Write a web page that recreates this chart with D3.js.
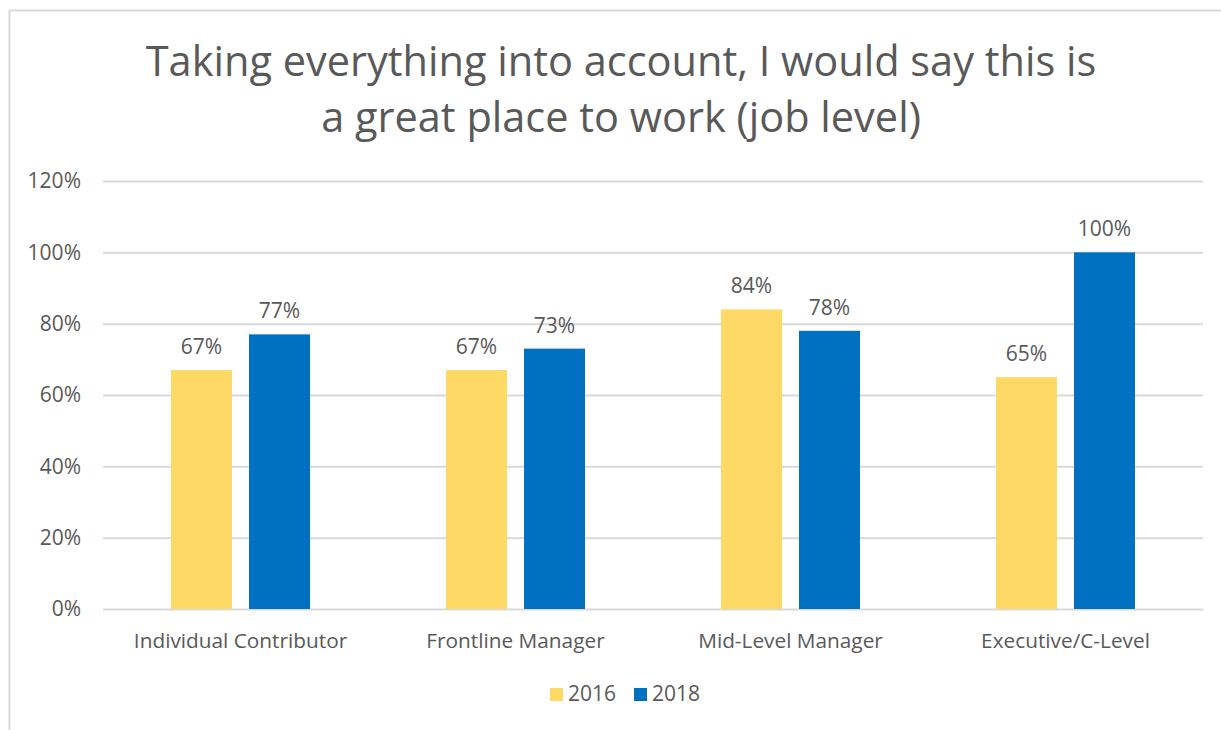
<!DOCTYPE html>
<html>
<head>
<meta charset="utf-8">
<script src="https://cdn.jsdelivr.net/npm/d3@7"></script>
<style>
  html, body { margin: 0; padding: 0; background: #fff; }
  svg { display: block; font-family: "Open Sans", "Noto Sans", sans-serif; }
</style>
</head>
<body>
<svg id="chart" width="1221" height="730"></svg>
<script>
// Survey results by job level
const categories = ["Individual Contributor", "Frontline Manager", "Mid-Level Manager", "Executive/C-Level"];
const seriesNames = ["2016", "2018"];
const values2016 = [0.67, 0.67, 0.84, 0.65];
const values2018 = [0.77, 0.73, 0.78, 1.00];
const tickValues = [0, 0.2, 0.4, 0.6, 0.8, 1.0, 1.2];
const titleLines = ["Taking everything into account, I would say this is", "a great place to work (job level)"];

const colors = { "2016": "#FFD966", "2018": "#0070C0" };
const textColor = "#595959";
const gridColor = "#D9D9D9";

const svg = d3.select("#chart");
const W = 1221, H = 730;

// chart frame
svg.append("rect")
  .attr("x", 9.5).attr("y", 10.5)
  .attr("width", W + 10).attr("height", H + 10)
  .attr("fill", "#fff").attr("stroke", "#D9D9D9").attr("stroke-width", 2);

const margin = { left: 103, right: 18, top: 181, bottom: 121 };
const plotW = W - margin.left - margin.right;
const plotH = H - margin.top - margin.bottom;

const g = svg.append("g").attr("transform", `translate(${margin.left},${margin.top})`);

const x0 = d3.scaleBand().domain(categories).range([0, plotW]).padding(0);
const x1 = d3.scaleBand().domain(seriesNames).range([0, x0.bandwidth()]).paddingInner(0.218).paddingOuter(0.872);
const y = d3.scaleLinear().domain([0, 1.2]).range([plotH, 0]);

// title
svg.append("g").selectAll("text").data(titleLines).join("text")
  .attr("x", 621)
  .attr("y", (d, i) => 76 + i * 56)
  .attr("text-anchor", "middle")
  .attr("fill", textColor)
  .attr("font-size", 41.5)
  .text(d => d);

// gridlines and y axis labels
const yAxis = d3.axisLeft(y).tickValues(tickValues).tickSize(-plotW).tickPadding(22)
  .tickFormat(d3.format(".0%"));
const ya = g.append("g").call(yAxis);
ya.select(".domain").remove();
ya.selectAll(".tick line").attr("stroke", gridColor).attr("stroke-width", 2);
ya.selectAll(".tick text").attr("fill", textColor).attr("font-size", 21)
  .attr("font-family", "\"Open Sans\", sans-serif");

// category axis
const xAxis = d3.axisBottom(x0).tickSize(0).tickPadding(24);
const xa = g.append("g").attr("transform", `translate(0,${plotH})`).call(xAxis);
xa.select(".domain").remove();
xa.selectAll(".tick text").attr("fill", textColor).attr("font-size", 20.8)
  .attr("font-family", "\"Open Sans\", sans-serif");

// bars
const rows = categories.map((c, i) => ({
  category: c,
  items: [{ key: "2016", value: values2016[i] }, { key: "2018", value: values2018[i] }]
}));

const groups = g.append("g").selectAll("g").data(rows).join("g")
  .attr("transform", d => `translate(${x0(d.category)},0)`);

groups.selectAll("rect").data(d => d.items).join("rect")
  .attr("x", d => x1(d.key))
  .attr("y", d => y(d.value))
  .attr("width", x1.bandwidth())
  .attr("height", d => plotH - y(d.value))
  .attr("fill", d => colors[d.key]);

groups.selectAll("text").data(d => d.items).join("text")
  .attr("x", d => x1(d.key) + x1.bandwidth() / 2)
  .attr("y", d => y(d.value) - 16)
  .attr("text-anchor", "middle")
  .attr("fill", textColor)
  .attr("font-size", 21)
  .text(d => d3.format(".0%")(d.value));

// legend
const legend = svg.append("g").attr("transform", "translate(550,688)");
const li = legend.selectAll("g").data(seriesNames).join("g")
  .attr("transform", (d, i) => `translate(${i * 84},0)`);
li.append("rect").attr("width", 13).attr("height", 13).attr("fill", d => colors[d]);
li.append("text").attr("x", 18).attr("y", 13)
  .attr("fill", textColor).attr("font-size", 21).text(d => d);
</script>
</body>
</html>
